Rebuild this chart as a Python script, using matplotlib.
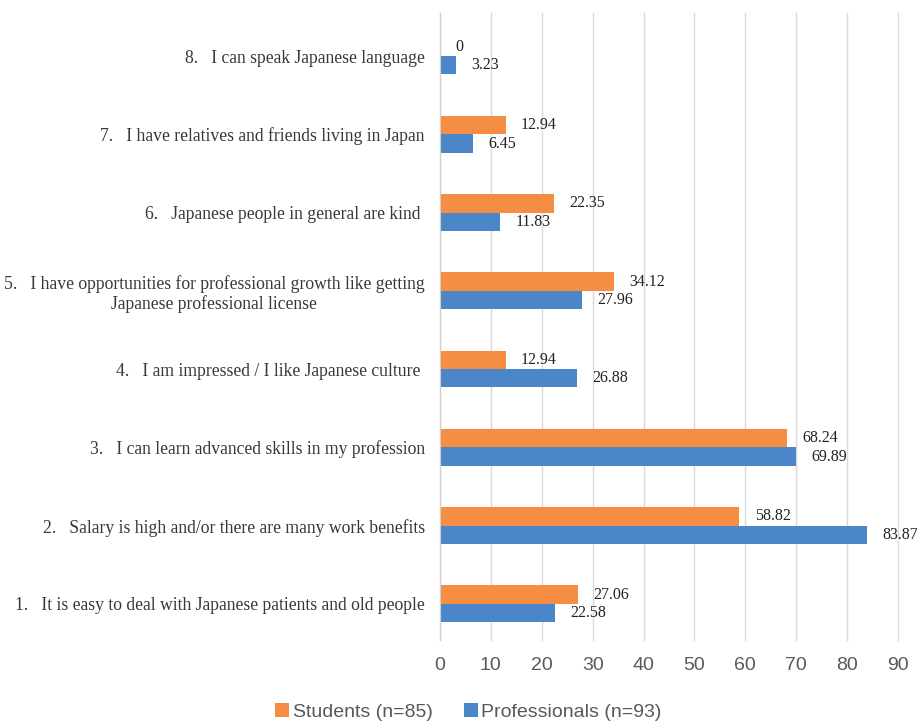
import numpy as np
import matplotlib
matplotlib.use('Agg')
import matplotlib.pyplot as plt

# ---- data (categories bottom -> top)
categories = [
    '1.   It is easy to deal with Japanese patients and old people',
    '2.   Salary is high and/or there are many work benefits',
    '3.   I can learn advanced skills in my profession',
    '4.   I am impressed / I like Japanese culture ',
    '5.   I have opportunities for professional growth like getting\nJapanese professional license',
    '6.   Japanese people in general are kind ',
    '7.   I have relatives and friends living in Japan',
    '8.   I can speak Japanese language',
]
students = [27.06, 58.82, 68.24, 12.94, 34.12, 22.35, 12.94, 0]
professionals = [22.58, 83.87, 69.89, 26.88, 27.96, 11.83, 6.45, 3.23]
xticks = [0, 10, 20, 30, 40, 50, 60, 70, 80, 90]

orange = '#F58D42'
blue = '#4A86C8'
serif = ['Liberation Serif', 'DejaVu Serif']
sans = ['Liberation Sans', 'DejaVu Sans']

fig = plt.figure(figsize=(9.17, 7.23), dpi=100)
ax = fig.add_axes([0.4798, 0.115, 0.4995, 0.867])

y = np.arange(len(categories))
h = 0.235
b1 = ax.barh(y + h / 2, students, height=h, color=orange, label='Students (n=85)')
b2 = ax.barh(y - h / 2, professionals, height=h, color=blue, label='Professionals (n=93)')

ax.bar_label(b1, labels=[f'{v:g}' if v else '0' for v in students], padding=11,
             fontsize=11.5, family=serif, color='#222222')
ax.bar_label(b2, labels=[f'{v:.2f}' for v in professionals], padding=11,
             fontsize=11.5, family=serif, color='#222222')

ax.set_xlim(0, 90)
ax.set_ylim(-0.46, len(categories) - 0.45)
ax.set_xticks(xticks)
ax.set_xticklabels([str(t) for t in xticks], family=sans, fontsize=14, color='#595959')
ax.set_yticks(y)
ax.set_yticklabels(categories, family=serif, fontsize=12.7, color='#383838',
                   multialignment='center')
ax.tick_params(axis='x', length=0, pad=12)
ax.tick_params(axis='y', length=0, pad=11)

ax.grid(axis='x', color='#d9d9d9', linewidth=1)
for gl in ax.get_xgridlines():
    gl.set_clip_on(False)
ax.set_axisbelow(True)
for s in ['top', 'right', 'bottom']:
    ax.spines[s].set_visible(False)
ax.spines['left'].set_color('#d0d0d0')

fig.legend(handles=[b1, b2], loc='center', bbox_to_anchor=(0.511, 0.015), ncol=2,
           frameon=False, prop={'family': sans, 'size': 14}, labelcolor='#595959',
           handlelength=0.7, handleheight=0.7, handletextpad=0.2, columnspacing=1.6)

fig.savefig('out.png', dpi=100)
